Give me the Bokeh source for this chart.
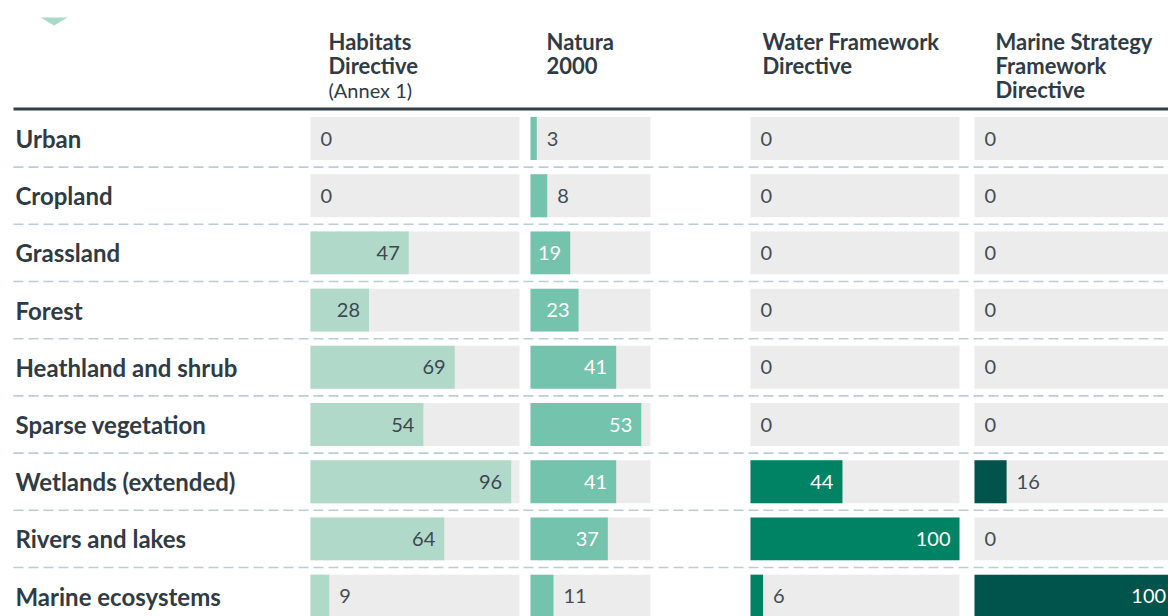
from bokeh.plotting import figure
from bokeh.models import Range1d, ColumnDataSource
from bokeh.embed import file_html
from bokeh.resources import INLINE
from bokeh.core.properties import value

# ---------------- data ----------------
categories = ["Urban", "Cropland", "Grassland", "Forest", "Heathland and shrub",
              "Sparse vegetation", "Wetlands (extended)", "Rivers and lakes",
              "Marine ecosystems"]
habitats = [0, 0, 47, 28, 69, 54, 96, 64, 9]
natura = [3, 8, 19, 23, 41, 53, 41, 37, 11]
water = [0, 0, 0, 0, 0, 0, 44, 100, 6]
marine = [0, 0, 0, 0, 0, 0, 16, 0, 100]
series = [habitats, natura, water, marine]
header_bold = [["Habitats", "Directive"], ["Natura", "2000"],
               ["Water Framework", "Directive"],
               ["Marine Strategy", "Framework", "Directive"]]
header_note = ["(Annex 1)", "", "", ""]

# ---------------- layout / style ----------------
W, H = 1168, 616
PX_PER_UNIT = 2.09
ROW_PX = 57.2
FIRST_ROW_PX = 138
col_left_px = [310, 530, 750, 974]
col_scale = [1.0, 1.0, 1.0, 0.96]
col_track = [100, 57.4, 100, 100]
header_x_px = [328, 546, 762, 995]
header_line_px = [41, 65, 89]
label_x_px = 15
bar_colors = ["#b0d9ca", "#74c3ad", "#008264", "#00544c"]
inside_text_colors = ["#3d4750", "#ffffff", "#ffffff", "#ffffff"]
track_color = "#ececec"
dark = "#2f3b45"
num_color = "#434c56"
FONT = "Lato"
INSIDE_MIN = 17


def u(px):
    return px / PX_PER_UNIT


def row_of_px(px):
    return (px - FIRST_ROW_PX) / ROW_PX


p = figure(width=W, height=H, output_backend="svg", toolbar_location=None,
           x_range=Range1d(0, u(W)),
           y_range=Range1d((H - FIRST_ROW_PX) / ROW_PX, -FIRST_ROW_PX / ROW_PX),
           min_border=0, outline_line_color=None)
p.axis.visible = False
p.grid.visible = False
p.background_fill_color = "white"
p.border_fill_color = "white"

rows = list(range(len(categories)))

# decorative triangle
p.patch([u(40), u(67), u(53.5)], [row_of_px(17), row_of_px(17), row_of_px(25)],
        fill_color="#a9d9c8", line_color=None)

# dashed separators
sep_y = [r + 0.5 for r in rows[:-1]]
p.segment(x0=[u(13)] * len(sep_y), x1=[u(W)] * len(sep_y), y0=sep_y, y1=sep_y,
          line_color="#b9ced6", line_width=1.6, line_dash="10 5")

# header rule
p.segment(x0=[u(13)], x1=[u(W)], y0=[row_of_px(108.5)], y1=[row_of_px(108.5)],
          line_color="#333e47", line_width=3)

# row labels
p.text(x=[u(label_x_px)] * len(rows), y=rows, text=categories,
       text_font=value(FONT), text_font_style="bold", text_font_size="24px",
       text_color=dark, text_align="left", text_baseline="middle")

for ci, vals in enumerate(series):
    left = u(col_left_px[ci])
    k = col_scale[ci]
    p.hbar(y=rows, left=left, right=left + col_track[ci] * k, height=0.75,
           fill_color=track_color, line_color=None)
    p.hbar(y=rows, left=left, right=[left + v * k for v in vals], height=0.75,
           fill_color=bar_colors[ci], line_color=None)

    ins = ColumnDataSource(dict(
        x=[left + v * k for v in vals if v >= INSIDE_MIN],
        y=[r for r, v in zip(rows, vals) if v >= INSIDE_MIN],
        t=[str(v) for v in vals if v >= INSIDE_MIN]))
    outs = ColumnDataSource(dict(
        x=[left + v * k for v in vals if v < INSIDE_MIN],
        y=[r for r, v in zip(rows, vals) if v < INSIDE_MIN],
        t=[str(v) for v in vals if v < INSIDE_MIN]))
    p.text(x="x", y="y", text="t", source=ins, x_offset=-9,
           text_font=value(FONT), text_font_size="20px",
           text_color=inside_text_colors[ci], text_align="right",
           text_baseline="middle")
    p.text(x="x", y="y", text="t", source=outs, x_offset=10,
           text_font=value(FONT), text_font_size="20px",
           text_color=num_color, text_align="left", text_baseline="middle")

    # header
    lines = header_bold[ci]
    p.text(x=[u(header_x_px[ci])] * len(lines),
           y=[row_of_px(header_line_px[i]) for i in range(len(lines))],
           text=lines, text_font=value(FONT), text_font_style="bold",
           text_font_size="22px", text_color=dark, text_align="left",
           text_baseline="middle")
    if header_note[ci]:
        p.text(x=[u(header_x_px[ci])], y=[row_of_px(header_line_px[len(lines)])],
               text=[header_note[ci]], text_font=value(FONT),
               text_font_size="20px", text_color=dark, text_align="left",
               text_baseline="middle")

open("out.html", "w").write(file_html(p, INLINE))
